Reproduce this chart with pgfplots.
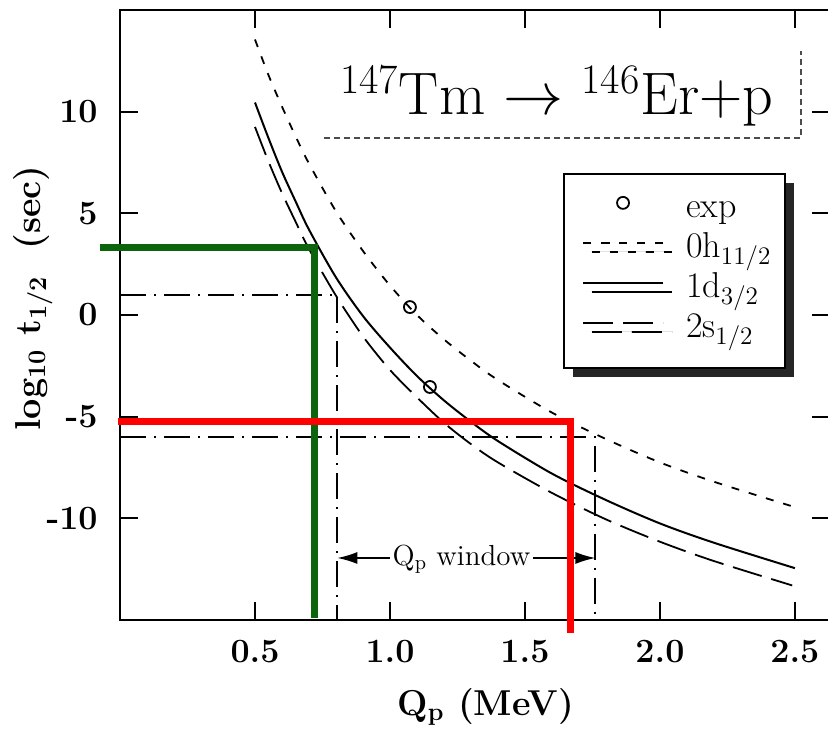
\RequirePackage{fix-cm}
\documentclass[border=0pt]{standalone}
\usepackage{fontspec}
\usepackage{pgfplots}
\pgfplotsset{compat=1.18}
\usetikzlibrary{arrows.meta,shadows}
\definecolor{mygreen}{RGB}{12,100,12}
\newcommand{\tickfont}{\fontsize{17}{20}\selectfont\bfseries}
\newcommand{\labfont}{\fontsize{18}{21}\selectfont\bfseries}
\begin{document}
\begin{tikzpicture}
\begin{axis}[
  at={(0,0)}, anchor=south west,
  scale only axis, width=355pt, height=305pt,
  xmin=0, xmax=2.63, ymin=-15, ymax=15,
  clip=false,
  axis line style={line width=1.2pt},
  xtick={0.5,1,1.5,2,2.5}, xticklabels={0.5,1.0,1.5,2.0,2.5},
  ytick={-10,-5,0,5,10}, yticklabels={-10,-5,0,5,10},
  major tick length=9pt, tick style={line width=1.1pt, black},
  tick align=inside,
  xticklabel style={font=\tickfont, inner sep=0pt, anchor=north, yshift=-10pt},
  yticklabel style={font=\tickfont, inner sep=0pt, anchor=east, xshift=-11pt},
  xlabel={Q\textsubscript{p} (MeV)},
  ylabel={log\textsubscript{10} t\textsubscript{1/2}\ \ (sec)},
  xlabel style={at={(axis description cs:0.515,-0.143)}, anchor=center, font=\labfont},
  ylabel style={at={(axis description cs:-0.1225,0.528)}, anchor=center, font=\labfont},
  legend image code/.code={\path (0pt,0pt) (47pt,0pt);\draw[mark repeat=2,mark phase=2,yshift=4pt,#1] plot coordinates {(4pt,0pt) (24pt,0pt) (44pt,0pt)};},
  legend style={at={(rel axis cs:0.624,0.733)}, anchor=north west, draw=black, line width=1pt, fill=white,
    font=\fontsize{18}{20}\selectfont, inner xsep=5pt, inner ysep=9pt, row sep=1pt, column sep=2pt,
    nodes={inner sep=2pt, text height=11pt, text depth=4pt},
    cells={anchor=west},
    drop shadow={shadow xshift=4.3pt, shadow yshift=-4.5pt, fill=black!85, opacity=1}},
]
\addplot[only marks, mark=o, mark size=3pt, mark options={line width=0.9pt, black}]
  coordinates {(1.074,0.39) (1.148,-3.54)};
\addlegendentry{\hspace{4pt}exp}
\addplot[black, line width=0.9pt, dash pattern=on 4pt off 5pt, smooth] coordinates {
(0.5,13.55) (0.55,11.8) (0.6,10.25) (0.65,8.8) (0.7,7.45) (0.8,5.1) (0.9,3.15) (1.0,1.45)
(1.1,0.0) (1.2,-1.2) (1.3,-2.25) (1.4,-3.2) (1.6,-4.8) (1.8,-6.1) (2.0,-7.25) (2.2,-8.2) (2.5,-9.45)};
\addlegendentry{\hspace{4pt}0h\textsubscript{11/2}}
\addplot[black, line width=1pt, smooth] coordinates {
(0.5,10.45) (0.55,8.7) (0.6,7.05) (0.65,5.6) (0.7,4.2) (0.8,1.85) (0.9,-0.05) (1.0,-1.6)
(1.1,-3.0) (1.2,-4.2) (1.3,-5.25) (1.4,-6.2) (1.6,-7.8) (1.8,-9.1) (2.0,-10.25) (2.2,-11.2) (2.5,-12.45)};
\addlegendentry{\hspace{4pt}1d\textsubscript{3/2}}
\addplot[black, line width=0.9pt, dash pattern=on 15pt off 5pt, smooth] coordinates {
(0.5,9.25) (0.55,7.55) (0.6,6.0) (0.65,4.6) (0.7,3.25) (0.8,0.95) (0.9,-1.05) (1.0,-2.7)
(1.1,-4.05) (1.2,-5.3) (1.3,-6.35) (1.4,-7.25) (1.6,-8.75) (1.8,-10.05) (2.0,-11.15) (2.2,-12.1) (2.49,-13.3)};
\addlegendentry{\hspace{4pt}2s\textsubscript{1/2}}
% dash-dot guide lines
\addplot[black, line width=1pt, dash pattern=on 13pt off 4pt on 1pt off 4pt, forget plot]
  coordinates {(0,1.0) (0.805,1.0) (0.805,-15)};
\addplot[black, line width=1pt, dash pattern=on 13pt off 4pt on 1pt off 4pt, forget plot]
  coordinates {(0,-6.0) (1.761,-6.0) (1.761,-15)};
% Q_p window arrow
\addplot[black, line width=0.8pt, {Latex[length=10pt,width=6pt]}-{Latex[length=10pt,width=6pt]}, forget plot]
  coordinates {(0.805,-11.95) (1.761,-11.95)};
\node[fill=white, inner sep=1.5pt, font=\fontsize{14.5}{16}\selectfont] at (axis cs:1.265,-12.0) {Q\textsubscript{p} window};
% title box
\draw[line width=0.7pt, black!70, densely dashed] (axis cs:0.756,8.71) -- (axis cs:2.523,8.71) -- (axis cs:2.523,12.98);
\node[anchor=base, font=\fontsize{30}{34}\selectfont] at (rel axis cs:0.615,0.828)
  {\textsuperscript{147}Tm $\rightarrow$ \textsuperscript{146}Er+p};
% coloured markers
\addplot[mygreen, line width=3.5pt, forget plot] coordinates {(-0.074,3.34) (0.719,3.34) (0.719,-14.9)};
\addplot[red, line width=3.5pt, forget plot] coordinates {(-0.007,-5.26) (1.667,-5.26) (1.667,-15.64)};
\end{axis}
\pgfresetboundingbox
\path[use as bounding box] (-60pt,-56.5pt) rectangle (354pt,310pt);
\end{tikzpicture}
\end{document}
